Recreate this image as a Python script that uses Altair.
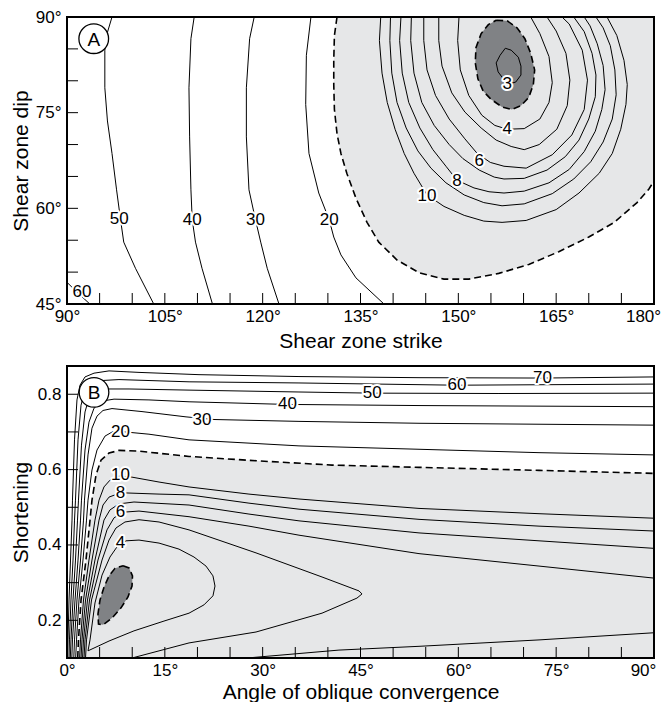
import altair as alt
import pandas as pd

FONT = "Liberation Sans"
LIGHT = "#e6e7e8"
DARK = "#808285"
W, HA, HB = 587, 287, 292

# ---------------- Panel A : shear zone strike (x) vs dip (y) ----------------
a_x_labels = [90, 105, 120, 135, 150, 165, 180]
a_y_labels = [45, 60, 75, 90]
a_x_ticks = [95, 100, 105, 110, 115, 120, 125, 130, 135, 140, 145, 150, 155, 160, 165, 170, 175]
a_y_ticks = [50, 55, 60, 65, 70, 75, 80, 85]

a_c60 = [[90, 48.4], [91.7, 46.7], [93.5, 45]]
a_c50 = [[96.9, 90], [96.2, 87.6], [95.8, 84.8], [95.8, 78.9], [96.2, 73.7], [96.9, 68.6], [97.6, 62.9],
         [98.2, 58.3], [98.7, 54.7], [100.5, 50.6], [103.3, 45]]
a_c40 = [[109.5, 90], [109.0, 86.6], [108.7, 78.9], [108.8, 71.2], [109.0, 62.9], [109.2, 58.2], [109.7, 54.7],
         [110.7, 50.6], [112.3, 45]]
a_c30 = [[118.7, 90], [118.0, 86.6], [117.5, 78.9], [117.5, 71.2], [117.9, 62.9], [118.9, 58.2], [119.7, 54.7],
         [120.7, 50.6], [122.5, 45]]
a_c20 = [[127.4, 90], [126.7, 84.0], [126.6, 76.3], [127.1, 68.6], [128.6, 62.4], [130.2, 58.2], [130.9, 55.5],
         [132.0, 52.7], [134.3, 49.1], [138.6, 45]]
a_c10 = [[138.1, 90], [137.9, 86.3], [138.3, 81.2], [139.1, 76.6], [140.3, 72.4], [141.7, 68.6], [143.2, 65.5],
         [145.2, 62.1], [147.8, 60.3], [150.9, 58.9], [153.9, 58.0], [156.7, 57.8], [160.4, 58.1], [165.0, 59.8],
         [168.5, 62.4], [171.6, 65.5], [173.6, 68.6], [174.9, 72.4], [175.7, 76.3], [175.9, 79.4], [175.4, 83.2],
         [174.3, 87.1], [172.8, 90]]
a_c9 = [[139.6, 90], [139.5, 86.3], [139.8, 81.2], [140.6, 76.6], [142.0, 72.6], [143.8, 69.0], [145.8, 66.3],
        [148.1, 64.0], [150.9, 62.1], [153.9, 60.9], [156.7, 60.4], [160.1, 60.7], [164.4, 62.3], [167.7, 64.6],
        [170.3, 67.3], [172.2, 70.4], [173.6, 74.0], [174.2, 77.8], [174.0, 81.7], [173.3, 85.5], [172.2, 88.3],
        [171.1, 90]]
a_c8 = [[141.2, 90], [141.0, 86.3], [141.4, 81.2], [142.4, 76.6], [144.1, 72.6], [146.1, 69.2], [148.1, 66.6],
        [149.8, 64.4], [152.4, 63.2], [154.7, 62.6], [157.0, 62.4], [160.1, 62.7], [163.9, 64.0], [167.0, 66.1],
        [169.3, 68.9], [171.0, 72.1], [172.0, 75.5], [172.5, 78.6], [172.2, 82.4], [171.3, 85.8], [170.2, 88.6],
        [169.3, 90]]
a_c7 = [[142.8, 90], [142.7, 86.3], [143.2, 81.2], [144.4, 76.6], [146.3, 73.0], [148.6, 70.0], [150.7, 67.8],
        [153.2, 66.0], [155.5, 64.9], [157.0, 64.6], [160.1, 64.7], [163.6, 66.0], [166.4, 68.1], [168.5, 70.7],
        [170.0, 74.0], [171.0, 77.5], [171.1, 80.9], [170.5, 84.3], [169.3, 87.7], [167.7, 90]]
a_c6 = [[144.7, 90], [144.7, 86.3], [145.2, 81.7], [146.5, 77.7], [148.6, 74.0], [151.0, 70.9], [152.9, 68.6],
        [154.9, 67.2], [157.0, 66.6], [160.4, 66.3], [164.4, 68.4], [167.4, 71.5], [169.3, 75.5], [169.8, 80.1],
        [169.0, 84.8], [167.0, 88.9], [165.9, 90]]
a_c5 = [[147.0, 90], [147.0, 86.3], [147.5, 82.3], [149.0, 78.1], [151.0, 75.1], [153.5, 72.6], [155.8, 70.7],
        [158.1, 69.7], [160.1, 69.2], [162.4, 70.0], [165.1, 72.4], [166.7, 76.1], [167.1, 80.1], [166.5, 84.3],
        [165.0, 87.8], [163.6, 90]]
a_c4 = [[150.1, 90], [149.9, 86.3], [150.3, 81.7], [151.6, 77.7], [153.6, 74.6], [155.6, 73.0], [157.5, 72.4],
        [160.1, 72.5], [162.5, 74.0], [163.9, 76.6], [164.4, 79.7], [163.9, 83.8], [162.5, 87.4], [161.1, 90]]
a_c3 = [[157.2, 85.1], [158.1, 84.8], [159.2, 83.7], [159.6, 82.3], [159.6, 80.9], [158.8, 79.8], [157.8, 79.5],
        [156.9, 80.3], [156.1, 81.4], [155.8, 82.8], [156.4, 84.0], [157.2, 85.1]]
a_dashed_outer = [[131.4, 90], [131.0, 87.1], [130.9, 83.2], [130.9, 79.4], [131.0, 75.5], [131.4, 71.7],
                  [132.0, 68.6], [132.9, 65.5], [134.3, 61.6], [136.0, 57.8], [137.8, 54.7], [140.6, 51.9],
                  [144.0, 49.9], [147.8, 48.9], [151.6, 48.9], [156.2, 49.8], [160.8, 51.2], [165.4, 53.2],
                  [170.0, 55.5], [173.9, 57.8], [177.4, 60.9], [179.2, 63.0], [180, 64.3]]
a_dashed_inner = [[155.8, 89.5], [157.5, 89.4], [159.0, 88.3], [160.2, 86.6], [161.1, 84.3], [161.7, 81.7],
                  [161.5, 79.4], [160.8, 77.4], [159.6, 76.1], [158.2, 75.5], [156.7, 75.9], [155.0, 77.1],
                  [153.8, 78.4], [153.0, 80.3], [152.6, 82.8], [152.7, 85.2], [153.5, 87.4], [154.6, 88.8],
                  [155.8, 89.5]]
a_corner = [[180, 90]]

a_label_text = ["60", "50", "40", "30", "20", "10", "8", "6", "4", "3"]
a_label_x = [92.3, 98.0, 109.2, 118.9, 130.2, 145.2, 149.8, 153.2, 157.5, 157.5]
a_label_y = [46.85, 58.25, 58.2, 58.2, 58.2, 62.0, 64.3, 67.5, 72.4, 79.5]
a_letter = ["A"]
a_letter_x = [94.1]
a_letter_y = [86.6]

# ---------------- Panel B : angle of oblique convergence (x) vs shortening (y) ----------------
b_x_labels = [0, 15, 30, 45, 60, 75, 90]
b_y_labels = [0.2, 0.4, 0.6, 0.8]
b_x_ticks = [5, 10, 15, 20, 25, 30, 35, 40, 45, 50, 55, 60, 65, 70, 75, 80, 85]
b_y_ticks = [0.2, 0.3, 0.4, 0.5, 0.6, 0.7, 0.8]

b_c70 = [[0.09, 0.100], [0.15, 0.148], [0.31, 0.254], [0.54, 0.360], [0.77, 0.466], [0.84, 0.519], [1.15, 0.679],
         [1.53, 0.785], [1.99, 0.824], [2.76, 0.846], [4.14, 0.856], [6.44, 0.862], [11.04, 0.858], [20.24, 0.852],
         [35.57, 0.847], [53.97, 0.844], [72.83, 0.843], [90, 0.846]]
b_c60 = [[0.31, 0.100], [0.38, 0.148], [0.61, 0.254], [0.92, 0.360], [1.15, 0.466], [1.30, 0.519], [1.69, 0.679],
         [2.15, 0.771], [2.76, 0.811], [3.68, 0.830], [4.91, 0.836], [7.97, 0.839], [18.71, 0.833], [35.57, 0.830],
         [59.79, 0.824], [90, 0.827]]
b_c50 = [[0.51, 0.100], [0.61, 0.148], [0.92, 0.254], [1.30, 0.360], [1.61, 0.466], [1.76, 0.519], [2.22, 0.665],
         [2.76, 0.753], [3.37, 0.790], [4.45, 0.809], [5.98, 0.814], [9.51, 0.814], [18.71, 0.811], [35.57, 0.806],
         [46.76, 0.803], [66.23, 0.802], [90, 0.803]]
b_c40 = [[0.74, 0.100], [0.84, 0.148], [1.23, 0.254], [1.69, 0.360], [2.07, 0.466], [2.22, 0.519], [2.76, 0.652],
         [3.37, 0.726], [4.14, 0.763], [5.37, 0.782], [7.21, 0.787], [12.57, 0.785], [18.71, 0.780], [33.73, 0.773],
         [53.97, 0.770], [90, 0.767]]
b_c30 = [[1.04, 0.100], [1.15, 0.148], [1.53, 0.254], [2.07, 0.360], [2.53, 0.466], [2.68, 0.519], [3.22, 0.639],
         [3.83, 0.710], [4.60, 0.742], [5.52, 0.757], [6.90, 0.762], [11.50, 0.754], [18.25, 0.740], [22.54, 0.733],
         [35.57, 0.728], [53.97, 0.723], [90, 0.718]]
b_c20 = [[1.33, 0.100], [1.46, 0.148], [1.84, 0.254], [2.45, 0.360], [2.99, 0.466], [3.22, 0.519], [3.83, 0.599],
         [4.60, 0.652], [5.83, 0.689], [7.05, 0.701], [8.28, 0.701], [12.57, 0.694], [18.71, 0.679], [35.57, 0.663],
         [53.97, 0.654], [72.37, 0.645], [90, 0.639]]
b_dashed_outer = [[1.64, 0.100], [1.76, 0.148], [2.15, 0.254], [2.91, 0.360], [3.53, 0.466], [3.83, 0.519],
                  [4.45, 0.586], [5.21, 0.625], [6.44, 0.644], [7.97, 0.651], [11.04, 0.649], [18.71, 0.635],
                  [29.44, 0.623], [40.63, 0.612], [53.97, 0.606], [72.37, 0.598], [90, 0.590]]
b_c10 = [[1.93, 0.100], [2.07, 0.148], [2.53, 0.254], [3.37, 0.360], [4.29, 0.466], [4.91, 0.519], [5.67, 0.554],
         [6.59, 0.572], [7.97, 0.583], [9.97, 0.580], [14.11, 0.567], [18.71, 0.554], [27.90, 0.535], [35.57, 0.522],
         [53.97, 0.497], [72.37, 0.483], [90, 0.471]]
b_c8 = [[2.15, 0.100], [2.30, 0.148], [2.84, 0.254], [3.83, 0.360], [4.91, 0.466], [5.52, 0.506], [6.44, 0.527],
        [7.67, 0.535], [9.20, 0.538], [14.11, 0.535], [18.71, 0.533], [27.90, 0.511], [35.57, 0.495], [53.97, 0.468],
        [72.37, 0.450], [90, 0.437]]
b_c7 = [[2.38, 0.100], [2.53, 0.148], [3.14, 0.254], [4.29, 0.360], [5.67, 0.466], [6.59, 0.493], [7.97, 0.509],
        [10.27, 0.514], [18.71, 0.506], [27.90, 0.482], [35.57, 0.464], [53.97, 0.432], [72.37, 0.411], [90, 0.391]]
b_c6 = [[2.61, 0.100], [2.76, 0.148], [3.45, 0.254], [4.75, 0.360], [6.13, 0.440], [7.21, 0.472], [8.59, 0.487],
        [11.04, 0.490], [18.71, 0.475], [27.90, 0.450], [35.57, 0.426], [53.97, 0.377], [72.37, 0.344], [90, 0.312]]
b_c6_low = [[27.60, 0.100], [41.70, 0.121], [53.97, 0.131], [72.37, 0.148], [90, 0.167]]
b_c5 = [[2.84, 0.100], [2.99, 0.148], [3.76, 0.254], [5.37, 0.360], [6.44, 0.413], [7.51, 0.445], [8.89, 0.461],
        [11.04, 0.467], [14.11, 0.461], [18.71, 0.440], [28.98, 0.379], [39.10, 0.315], [43.24, 0.288],
        [44.77, 0.278], [45.23, 0.270], [44.46, 0.259], [39.10, 0.219], [28.98, 0.169], [18.71, 0.140],
        [9.97, 0.100]]
b_c4 = [[3.22, 0.119], [3.53, 0.148], [4.29, 0.246], [5.37, 0.320], [6.59, 0.368], [7.67, 0.395], [9.05, 0.411],
        [11.04, 0.413], [14.11, 0.405], [17.17, 0.389], [19.47, 0.368], [21.31, 0.344], [22.38, 0.318],
        [22.69, 0.291], [22.38, 0.265], [21.00, 0.241], [18.71, 0.219], [14.87, 0.198], [10.27, 0.172],
        [6.44, 0.145], [3.22, 0.119]]
b_dashed_inner = [[8.59, 0.345], [9.51, 0.339], [10.04, 0.318], [9.97, 0.291], [9.35, 0.262], [8.28, 0.233],
                  [6.90, 0.206], [5.52, 0.188], [4.83, 0.190], [4.75, 0.217], [5.06, 0.254], [5.67, 0.288],
                  [6.44, 0.318], [7.36, 0.338], [8.59, 0.345]]
b_corner = [[90, 0.100]]

b_label_text = ["70", "60", "50", "40", "30", "20", "10", "8", "6", "4"]
b_label_x = [72.9, 59.8, 46.8, 33.8, 20.7, 8.2, 8.2, 8.2, 8.2, 8.2]
b_label_y = [0.842, 0.824, 0.803, 0.773, 0.733, 0.701, 0.586, 0.537, 0.487, 0.404]
b_letter = ["B"]
b_letter_x = [4.14]
b_letter_y = [0.805]


def line_df(named):
    rows = []
    for name, pts in named:
        for i, (x, y) in enumerate(pts):
            rows.append({"id": name, "i": i, "x": x, "y": y})
    return pd.DataFrame(rows)


def panel(xdom, ydom, h, xlab, ylab, xticks, yticks, xtitle, ytitle, yfmt_expr, title_pad,
          solid, dashed, light_poly, dark_poly, lab_t, lab_x, lab_y, let_t, let_x, let_y):
    xs = alt.Scale(domain=xdom, nice=False, zero=False)
    ys = alt.Scale(domain=ydom, nice=False, zero=False)
    last = xlab[-1]
    ax_x = alt.Axis(values=xlab, labelExpr="datum.value + '°'", ticks=False, domain=False, grid=False,
                    labelFontSize=17, labelPadding=4, labelFlush=False, labelOverlap=False,
                    labelOffset={"condition": {"test": f"datum.value == {last}", "value": -11}, "value": 0},
                    title=xtitle, titleFontSize=21, titlePadding=title_pad, titleFontWeight="normal")
    ax_y = alt.Axis(values=ylab, labelExpr=yfmt_expr, ticks=False, domain=False, grid=False,
                    labelFontSize=17, labelPadding=6, labelFlush=False, labelOverlap=False,
                    title=ytitle, titleFontSize=21, titleFontWeight="normal", titleX=-46, titleY=h / 2,
                    titleBaseline="middle", titleAlign="center", titleAngle=-90)
    X = alt.X("x:Q", scale=xs, axis=ax_x)
    Y = alt.Y("y:Q", scale=ys, axis=ax_y)

    light = alt.Chart(line_df([("light", light_poly)])).mark_line(
        fill=LIGHT, stroke=LIGHT, strokeWidth=0, clip=True).encode(x=X, y=Y, order="i:Q")
    dark = alt.Chart(line_df([("dark", dark_poly)])).mark_line(
        fill=DARK, stroke=DARK, strokeWidth=0, clip=True).encode(x=X, y=Y, order="i:Q")
    sol = alt.Chart(line_df(solid)).mark_line(color="black", strokeWidth=1, clip=True).encode(
        x=X, y=Y, detail="id:N", order="i:Q")
    das = alt.Chart(line_df(dashed)).mark_line(color="black", strokeWidth=1.6, strokeDash=[7, 4], clip=True).encode(
        x=X, y=Y, detail="id:N", order="i:Q")
    xt = alt.Chart(pd.DataFrame({"x": xticks})).mark_rule(color="black", strokeWidth=1).encode(
        x=X, y=alt.value(h), y2=alt.value(h - 11))
    yt = alt.Chart(pd.DataFrame({"y": yticks})).mark_rule(color="black", strokeWidth=1).encode(
        y=Y, x=alt.value(0), x2=alt.value(11))
    ldf = pd.DataFrame({"x": lab_x, "y": lab_y, "t": lab_t})
    halo = alt.Chart(ldf).mark_text(font=FONT, fontSize=17, stroke="white", strokeWidth=4, strokeJoin="round",
                                    color="white").encode(x=X, y=Y, text="t:N")
    txt = alt.Chart(ldf).mark_text(font=FONT, fontSize=17, color="black").encode(x=X, y=Y, text="t:N")
    cdf = pd.DataFrame({"x": let_x, "y": let_y, "t": let_t})
    circ = alt.Chart(cdf).mark_point(shape="circle", size=880, filled=True, fill="white", stroke="black",
                                     strokeWidth=1.3, opacity=1).encode(x=X, y=Y)
    ctxt = alt.Chart(cdf).mark_text(font=FONT, fontSize=19, color="black", dy=1).encode(x=X, y=Y, text="t:N")
    frame = alt.Chart(pd.DataFrame({"f": [0]})).mark_rect(fill=None, stroke="black", strokeWidth=2).encode(
        x=alt.value(0), x2=alt.value(W), y=alt.value(0), y2=alt.value(h))
    return alt.layer(light, dark, sol, das, xt, yt, halo, txt, circ, ctxt, frame).properties(width=W, height=h)


pA = panel([90, 180], [45, 90], HA, a_x_labels, a_y_labels, a_x_ticks, a_y_ticks,
           "Shear zone strike", "Shear zone dip", "datum.value + '°'", 6,
           [("60", a_c60), ("50", a_c50), ("40", a_c40), ("30", a_c30), ("20", a_c20), ("10", a_c10),
            ("9", a_c9), ("8", a_c8), ("7", a_c7), ("6", a_c6), ("5", a_c5), ("4", a_c4), ("3", a_c3)],
           [("outer", a_dashed_outer), ("inner", a_dashed_inner)],
           a_dashed_outer + a_corner, a_dashed_inner,
           a_label_text, a_label_x, a_label_y, a_letter, a_letter_x, a_letter_y)

pB = panel([0, 90], [0.1, 0.875], HB, b_x_labels, b_y_labels, b_x_ticks, b_y_ticks,
           "Angle of oblique convergence", "Shortening", "format(datum.value, '.1f')", 3,
           [("70", b_c70), ("60", b_c60), ("50", b_c50), ("40", b_c40), ("30", b_c30), ("20", b_c20),
            ("10", b_c10), ("8", b_c8), ("7", b_c7), ("6", b_c6), ("6low", b_c6_low), ("5", b_c5), ("4", b_c4)],
           [("outer", b_dashed_outer), ("inner", b_dashed_inner)],
           b_dashed_outer + b_corner, b_dashed_inner,
           b_label_text, b_label_x, b_label_y, b_letter, b_letter_x, b_letter_y)

chart = alt.vconcat(pA, pB, spacing=14).properties(
    padding={"left": 2, "top": 0, "right": 0, "bottom": 0}
).configure_view(strokeWidth=0).configure_axis(
    labelFont=FONT, titleFont=FONT, labelColor="black", titleColor="black"
)

chart.save("out.html", embed_options={"renderer": "svg", "actions": False})
